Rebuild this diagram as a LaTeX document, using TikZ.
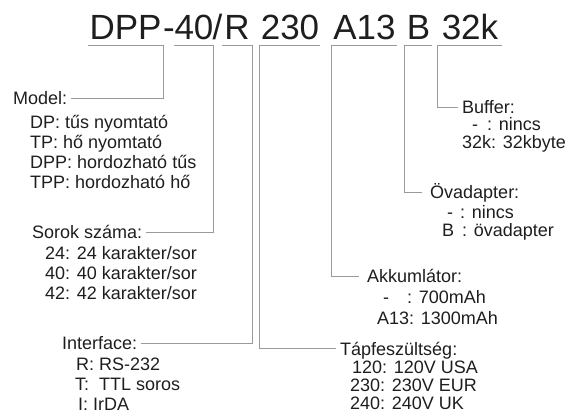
\documentclass[tikz,border=0pt]{standalone}
\usepackage{fontspec}
\setmainfont{Liberation Sans}
\definecolor{leadgray}{HTML}{9A9A9A}
\definecolor{ink}{HTML}{1E1E1E}
\tikzset{
  code/.style={font=\fontsize{35}{40}\selectfont, text=ink, anchor=base, inner xsep=0pt, inner ysep=6pt, text depth=0pt},
  sep/.style={font=\fontsize{35}{40}\selectfont, text=ink, anchor=base, inner sep=0pt},
  head/.style={font=\fontsize{18}{20}\selectfont, text=ink, anchor=base west, inner xsep=4pt, inner ysep=0pt, text height=13pt, text depth=0pt},
  items/.style={font=\fontsize{18}{20}\selectfont, text=ink, anchor=base west, inner sep=0pt, align=left},
  tight/.style={font=\fontsize{18}{18}\selectfont},
  lead/.style={draw=leadgray, line width=0.8pt},
}
\begin{document}
\begin{tikzpicture}[x=1pt,y=-1pt]
\useasboundingbox (0,0) rectangle (565,418);
% type code
\node[code, minimum width=75pt] (dpp) at (125.5,39) {DPP};
\node[sep] (dash) at (169,39) {-};
\node[code, minimum width=38pt] (n40) at (194,39) {40};
\node[sep] (slash) at (217.5,39) {/};
\node[code, minimum width=30pt] (r) at (237,39) {R};
\node[code, minimum width=60pt] (v230) at (290,39) {230};
\node[code, minimum width=65pt] (a13) at (364.5,39) {A13};
\node[code, minimum width=27pt] (b) at (418.5,39) {B};
\node[code, minimum width=64pt] (k32) at (470,39) {32k};
% left side (items: base = last line)
\node[head] (model) at (9,104.5) {Model:};
\node[items] (modelitems) at (30,188.5) {DP: tűs nyomtató\\TP: hő nyomtató\\DPP: hordozható tűs\\TPP: hordozható hő};
\node[head] (sorok) at (28,238.5) {Sorok száma:};
\node[items] (sorokitems) at (45,299.5) {24: 24 karakter/sor\\40: 40 karakter/sor\\42: 42 karakter/sor};
\node[head] (iface) at (58,349.5) {Interface:};
\node[items] (ifaceitems) at (75,410.5) {\hspace*{1pt}R: RS-232\\T:\ \ TTL soros\\\hspace*{3pt}I: IrDA};
% right side
\node[head] (tap) at (336,355) {Tápfeszültség:};
\node[items, tight] (tapitems) at (350,409.5) {\hspace*{2pt}120: 120V USA\\230: 230V EUR\\240: 240V UK};
\node[head, inner xsep=8pt] (akku) at (359,282.5) {Akkumlátor:};
\node[items] (akkuitems) at (377,324) {\hspace*{6pt}-\hspace*{18pt}: 700mAh\\[1pt]A13: 1300mAh};
\node[head, inner xsep=8pt] (ovad) at (422,198.5) {Övadapter:};
\node[items, tight] (ovaditems) at (442,236) {\hspace*{5pt}-\hspace*{7pt}: nincs\\B\hspace*{8pt}: övadapter};
\node[head] (buffer) at (458,113.5) {Buffer:};
\node[items, tight] (bufferitems) at (462,148) {\hspace*{10pt}-\hspace*{9pt}: nincs\\32k: 32kbyte};
% leaders
\draw[lead] (dpp.south west) -- (dpp.south east) |- (model.east);
\draw[lead] (n40.south west) -- (n40.south east) |- (sorok.east);
\draw[lead] (r.south west) -- (r.south east) |- (iface.east);
\draw[lead] (v230.south east) -- (v230.south west) |- (tap.west);
\draw[lead] (a13.south east) -- (a13.south west) |- (akku.west);
\draw[lead] (b.south east) -- (b.south west) |- (ovad.west);
\draw[lead] (k32.south east) -- (k32.south west) |- (buffer.west);
\end{tikzpicture}
\end{document}
